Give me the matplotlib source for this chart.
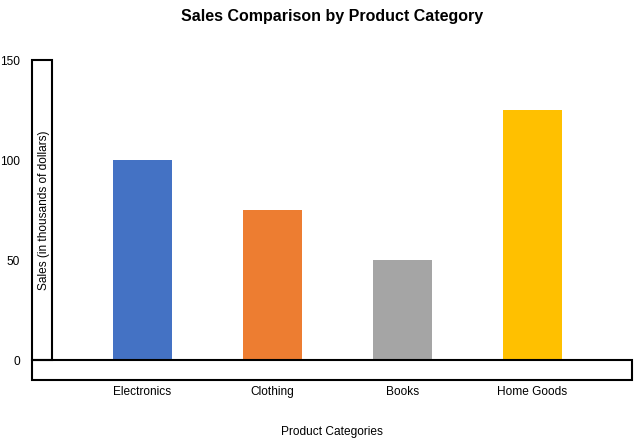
import matplotlib.pyplot as plt
from matplotlib.patches import Rectangle

# ==========================================
# DATA
# ==========================================

categories = ["Electronics", "Clothing", "Books", "Home Goods"]
sales = [100, 75, 50, 125]
colors = ["#4472C4", "#ED7D31", "#A5A5A5", "#FFC000"]
y_ticks = [0, 50, 100, 150]

# ==========================================
# FIGURE (pixel layout helpers)
# ==========================================

W, H = 635, 442
plt.rcParams["font.family"] = ["Liberation Sans", "DejaVu Sans"]

fig = plt.figure(figsize=(W / 100, H / 100), dpi=100, facecolor="white")


def fx(px):
    return px / W


def fy(py):
    return 1 - py / H


# plot area: x 52..632, y 60..360
ax = fig.add_axes([fx(52), fy(360), fx(632) - fx(52), fy(60) - fy(360)])
ax.set_facecolor("none")

x = list(range(len(categories)))
ax.bar(x, sales, width=59 / 130, color=colors, zorder=2)

ax.set_ylim(0, 150)
ax.set_xlim(-90.5 / 130, -90.5 / 130 + 580 / 130)

for s in ax.spines.values():
    s.set_visible(False)
ax.set_xticks([])
ax.set_yticks([])

# ==========================================
# AXIS BOXES
# ==========================================

lw = 1.5
fig.patches.append(Rectangle((fx(32), fy(360)), fx(52) - fx(32), fy(60) - fy(360),
                             transform=fig.transFigure, fill=False,
                             edgecolor="black", linewidth=lw, zorder=3))
fig.patches.append(Rectangle((fx(32), fy(380)), fx(632) - fx(32), fy(360) - fy(380),
                             transform=fig.transFigure, fill=False,
                             edgecolor="black", linewidth=lw, zorder=3))

# ==========================================
# LABELS
# ==========================================

fs = 8.6
dy = 1.8  # small downward nudge, px
for v in y_ticks:
    ypx = ax.transData.transform((0, v))[1] - dy
    ax.text(fx(20), ypx / H, str(v),
            transform=fig.transFigure, ha="right", va="center", fontsize=fs)

for i, name in enumerate(categories):
    xp = ax.transData.transform((i, 0))[0] / W
    fig.text(xp, fy(390 + dy), name, ha="center", va="center", fontsize=fs)

fig.text(fx(43.5), fy(210), "Sales (in thousands of dollars)", rotation=90,
         ha="center", va="center", fontsize=fs)
fig.text(fx(332), fy(430 + dy), "Product Categories", ha="center", va="center",
         fontsize=fs)
fig.text(fx(332), fy(15 + dy), "Sales Comparison by Product Category",
         ha="center", va="center", fontsize=11.5, fontweight="bold")

# ==========================================
# SAVE
# ==========================================

fig.savefig("out.png", dpi=100, facecolor="white")
plt.close()
